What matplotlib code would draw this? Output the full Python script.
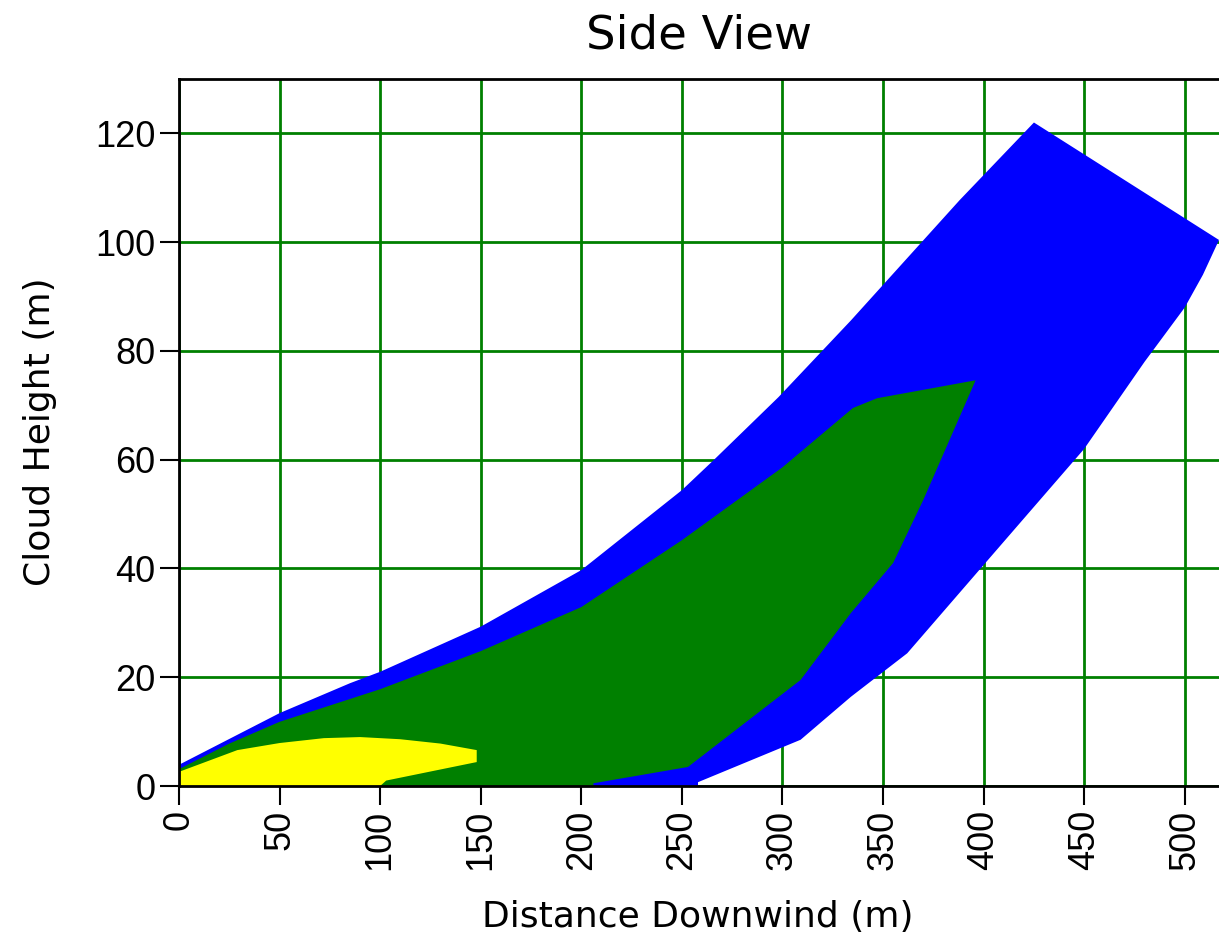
import matplotlib
matplotlib.use("Agg")
import matplotlib.pyplot as plt

# outline of each concentration zone (distance downwind, height), in metres
blue_x = [0, 50, 85, 100, 150, 200, 250, 266, 298, 334, 388, 425, 517,
          509, 500, 480, 450, 402, 362, 334, 309, 258, 258, 0]
blue_y = [3.9, 13.4, 18.9, 21, 29.3, 39.7, 54.4, 60, 71.5, 85.6, 107.7, 122, 100.4,
          94, 88, 78, 62, 41.5, 24.4, 16.4, 8.5, 0.7, 0, 0]

green_x = [0, 25, 50, 100, 150, 200, 250, 300, 335, 347, 396,
           370, 355, 334, 309, 253, 206, 206, 0]
green_y = [3.1, 7.8, 11.8, 17.8, 24.8, 32.9, 45.2, 58.6, 69.5, 71.3, 74.6,
           52.6, 41, 31.8, 19.5, 3.5, 0.5, 0, 0]

yellow_x = [0, 29, 50, 72, 90, 110, 130, 148, 148, 103, 100, 0]
yellow_y = [2.6, 6.6, 7.9, 8.8, 9.0, 8.6, 7.8, 6.6, 4.4, 1.0, 0, 0]

x_ticks = [0, 50, 100, 150, 200, 250, 300, 350, 400, 450, 500]
y_ticks = [0, 20, 40, 60, 80, 100, 120]

plt.rcParams['font.family'] = ['Liberation Sans', 'DejaVu Sans']

fig = plt.figure(figsize=(12.19, 9.40), dpi=100)
ax = fig.add_axes([179 / 1219, 1 - 786 / 940, 1 - 179 / 1219, (786 - 79) / 940])

ax.fill(blue_x, blue_y, color='#0000ff', lw=0)
ax.fill(green_x, green_y, color='#008000', lw=0)
ax.fill(yellow_x, yellow_y, color='#ffff00', lw=0)

ax.set_xlim(0, 517)
ax.set_ylim(0, 130)
ax.set_xticks(x_ticks)
ax.set_yticks(y_ticks)
ax.set_xticklabels([str(v) for v in x_ticks], rotation=90)
ax.tick_params(direction='out', length=14, width=1.5, labelsize=26, color='black', pad=3)

ax.set_axisbelow(True)
ax.grid(True, color='#008000', lw=2)
for s in ['left', 'bottom', 'top']:
    ax.spines[s].set_linewidth(2)
    ax.spines[s].set_color('black')
ax.spines['right'].set_visible(False)

lbl = dict(family='DejaVu Sans', ha='center', va='center')
fig.text(699 / 1219, 1 - 36 / 940, 'Side View', fontsize=33.5, **lbl)
fig.text(698 / 1219, 1 - 917 / 940, 'Distance Downwind (m)', fontsize=26, **lbl)
fig.text(40 / 1219, 1 - 432 / 940, 'Cloud Height (m)', rotation=90, fontsize=26, **lbl)

fig.savefig('out.png', dpi=100)
